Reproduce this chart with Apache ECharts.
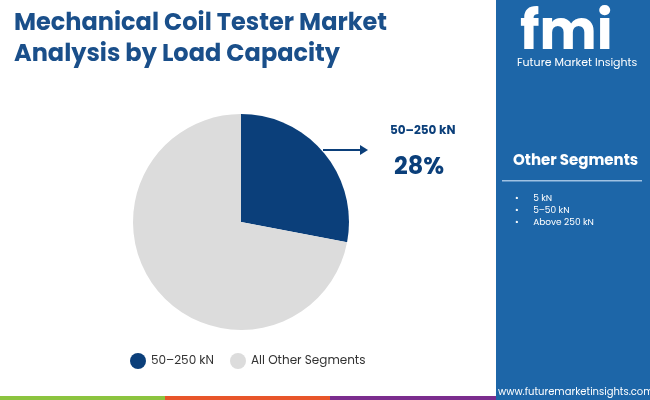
<!DOCTYPE html>
<html><head><meta charset="utf-8">
<script src="https://cdn.jsdelivr.net/npm/echarts@6/dist/echarts.min.js"></script>
<style>html,body{margin:0;padding:0}#c{width:650px;height:400px}</style>
</head><body><div id="c"></div>
<script>
var categories = ['50–250 kN', 'All Other Segments'];
var shares = [28, 72];
var otherSegments = ['5 kN', '5–50 kN', 'Above 250 kN'];
var colors = ['#0b3f7a', '#dcdcdc'];

var chart = echarts.init(document.getElementById('c'));
var F = 'Poppins, Inter, "Open Sans", sans-serif';
var panel = [
  { type: 'rect', shape: { x: 496, y: 0, width: 154, height: 400 }, style: { fill: '#1d66a8' } },
  { type: 'text', left: 520, top: 8, style: { text: 'fmi', font: 'bold 54px ' + F, fill: '#ffffff' } },
  { type: 'text', left: 517, top: 58, style: { text: 'Future Market Insights', font: '11px ' + F, fill: '#ffffff' } },
  { type: 'text', left: 513, top: 154, style: { text: 'Other Segments', font: 'bold 15px ' + F, fill: '#ffffff' } },
  { type: 'rect', shape: { x: 502, y: 180, width: 140, height: 1.5 }, style: { fill: '#9fc2e3' } },
  { type: 'text', left: 498, top: 387, style: { text: 'www.futuremarketinsights.com', font: '10px ' + F, fill: '#ffffff' } },
  { type: 'rect', shape: { x: 0, y: 396, width: 165, height: 4 }, style: { fill: '#8cc43f' } },
  { type: 'rect', shape: { x: 165, y: 396, width: 165, height: 4 }, style: { fill: '#e8552a' } },
  { type: 'rect', shape: { x: 330, y: 396, width: 166, height: 4 }, style: { fill: '#7b2d8e' } },
  { type: 'text', left: 14, top: 8, style: { text: 'Mechanical Coil Tester Market\nAnalysis by Load Capacity', font: 'bold 24px ' + F, lineHeight: 31, fill: '#1a4f8a' } },
  { type: 'line', shape: { x1: 323, y1: 150, x2: 362, y2: 150 }, style: { stroke: '#0b3f7a', lineWidth: 2 } },
  { type: 'polygon', shape: { points: [[368, 150], [360, 145], [360, 155]] }, style: { fill: '#0b3f7a' } },
  { type: 'text', left: 390, top: 125, style: { text: categories[0], font: 'bold 12px ' + F, fill: '#0b3f7a' } },
  { type: 'text', left: 394, top: 156, style: { text: shares[0] + '%', font: 'bold 24px ' + F, fill: '#0b3f7a' } }
];
otherSegments.forEach(function (s, i) {
  panel.push({ type: 'text', left: 515, top: 194 + i * 12, style: { text: '•      ' + s, font: '9px ' + F, fill: '#ffffff' } });
});

chart.setOption({
  animation: false,
  graphic: panel,
  legend: {
    bottom: 26, left: 125, itemGap: 16, icon: 'circle', itemWidth: 16, itemHeight: 16,
    textStyle: { fontFamily: F, fontSize: 12, color: '#333' }, data: categories
  },
  series: [{
    type: 'pie', center: [241, 222], radius: 108, startAngle: 90, clockwise: true,
    label: { show: false }, labelLine: { show: false },
    data: categories.map(function (c, i) { return { name: c, value: shares[i], itemStyle: { color: colors[i] } }; })
  }]
});
window.onresize = chart.resize;
</script></body></html>
